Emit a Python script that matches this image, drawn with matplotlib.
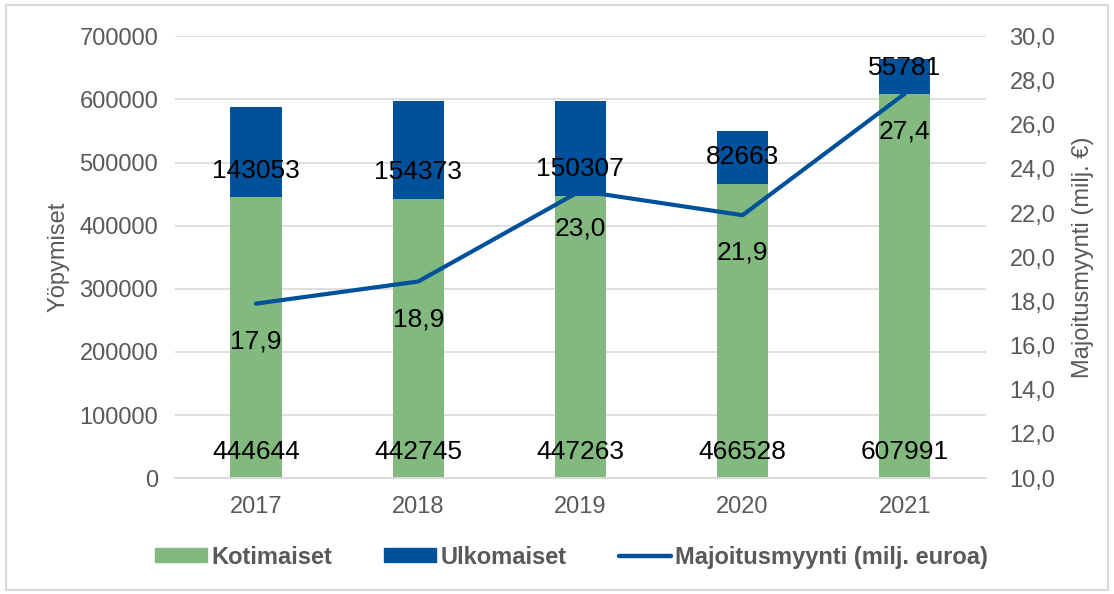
import matplotlib.pyplot as plt
from matplotlib.patches import Rectangle
from matplotlib.lines import Line2D

plt.rcParams['font.family'] = ['Liberation Sans', 'DejaVu Sans']

years = ['2017', '2018', '2019', '2020', '2021']
kotimaiset = [444644, 442745, 447263, 466528, 607991]
ulkomaiset = [143053, 154373, 150307, 82663, 55781]
myynti = [17.9, 18.9, 23.0, 21.9, 27.4]

GREEN = '#82b97e'
BLUE = '#00519b'
GREY = '#595959'
LIGHT = '#d9d9d9'

fig = plt.figure(figsize=(11.14, 5.94), dpi=100)
ax = fig.add_axes([0.157, 0.195, 0.728, 0.744])
ax2 = ax.twinx()

x = list(range(len(years)))
ax.bar(x, kotimaiset, width=0.315, color=GREEN, zorder=2)
ax.bar(x, ulkomaiset, width=0.315, bottom=kotimaiset, color=BLUE, zorder=2)
ax2.plot(x, myynti, color=BLUE, linewidth=3.0, solid_capstyle='round', zorder=3)

ax.set_xlim(-0.5, 4.5)
ax.set_ylim(0, 700000)
ax.set_yticks(range(0, 700001, 100000))
ax.set_xticks(x)
ax.set_xticklabels(years)
ax2.set_ylim(10, 30)
ax2.set_yticks(range(10, 31, 2))
ax2.set_yticklabels([f'{v:.1f}'.replace('.', ',') for v in range(10, 31, 2)])

ax.grid(axis='y', color=LIGHT, linewidth=1.2, zorder=0)
ax.set_axisbelow(True)
for a in (ax, ax2):
    for s in ('top', 'left', 'right'):
        a.spines[s].set_visible(False)
    a.spines['bottom'].set_color(LIGHT)
    a.spines['bottom'].set_linewidth(1.2)
    a.tick_params(length=0, labelsize=17, colors=GREY)
ax.tick_params(axis='y', pad=12)
ax.tick_params(axis='x', pad=13)
ax2.tick_params(axis='y', pad=17)

ax.set_ylabel('Yöpymiset', fontsize=17, color=GREY, labelpad=7)
ax2.set_ylabel('Majoitusmyynti (milj. €)', fontsize=17, color=GREY, labelpad=12)

# data labels
for i in x:
    ax.annotate(str(kotimaiset[i]), (i, 0), xytext=(0, 19), textcoords='offset points',
                ha='center', va='center', fontsize=19, color='black', zorder=5)
    ax.annotate(str(ulkomaiset[i]), (i, kotimaiset[i]), xytext=(0, 19), textcoords='offset points',
                ha='center', va='center', fontsize=19, color='black', zorder=5)
    ax2.annotate(f'{myynti[i]:.1f}'.replace('.', ','), (i, myynti[i]), xytext=(0, -27),
                 textcoords='offset points', ha='center', va='center', fontsize=19,
                 color='black', zorder=5)

handles = [Rectangle((0, 0), 1, 1, color=GREEN), Rectangle((0, 0), 1, 1, color=BLUE),
           Line2D([], [], color=BLUE, linewidth=3.2, solid_capstyle='round')]
leg = fig.legend(handles, ['Kotimaiset', 'Ulkomaiset', 'Majoitusmyynti (milj. euroa)'],
                 loc='center', bbox_to_anchor=(0.513, 0.062), ncol=3, frameon=False,
                 prop={'size': 17, 'weight': 'bold'}, handlelength=2.2, handleheight=0.55,
                 handletextpad=0.2, columnspacing=2.2)
for t in leg.get_texts():
    t.set_color(GREY)

fig.patches.append(Rectangle((0.005, 0.007), 0.99, 0.985, transform=fig.transFigure,
                             fill=False, edgecolor=LIGHT, linewidth=1.5))

fig.savefig('out.png', dpi=100)
